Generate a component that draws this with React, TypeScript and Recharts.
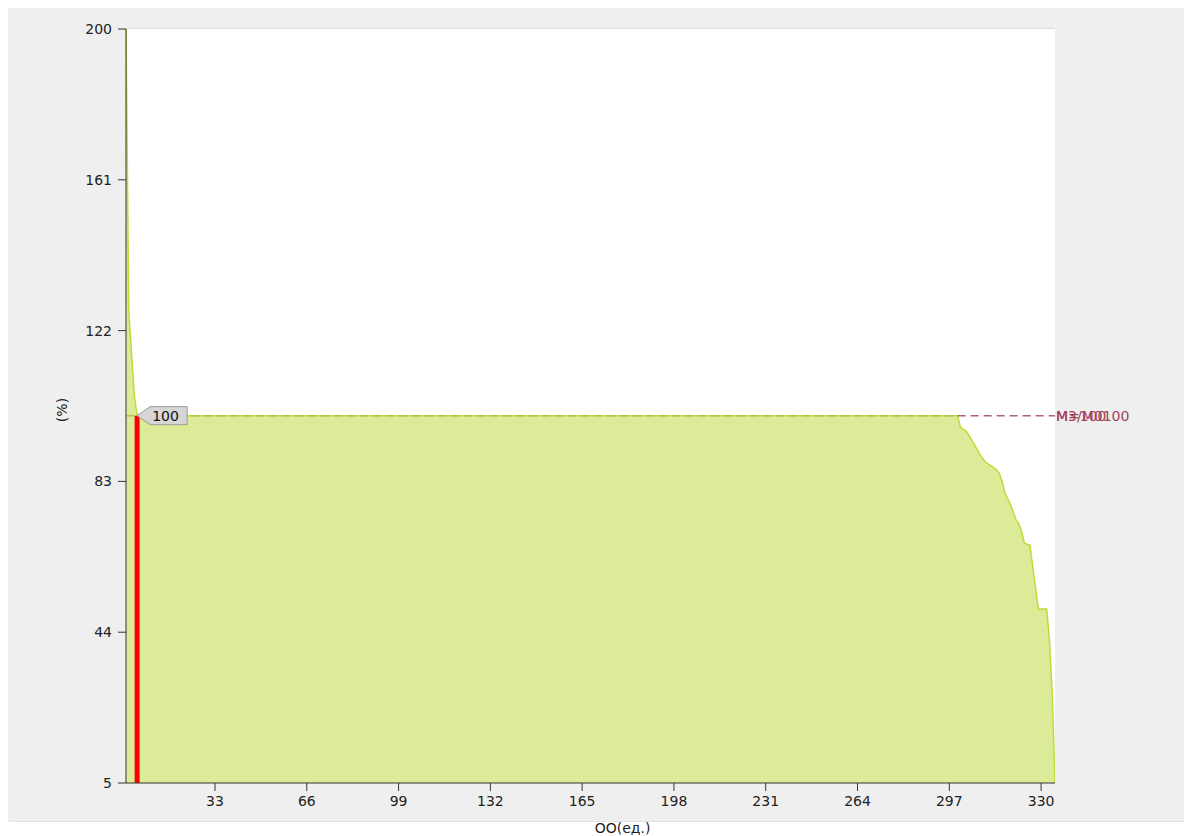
import React from 'react';
import {
  AreaChart,
  Area,
  XAxis,
  YAxis,
  CartesianGrid,
  ReferenceLine,
  ReferenceDot,
} from 'recharts';

const ooUnits = [1, 2, 3, 4, 5, 300, 301, 303, 304, 306, 308, 310, 311, 312, 314, 315, 316, 317, 318, 319, 320, 321, 322, 323, 324, 326, 329, 332, 333, 334, 335];
const pctValues = [200, 127, 116, 105, 100, 100, 97, 96, 95, 92.5, 90, 88, 87.5, 87, 86, 85, 83, 80, 78.5, 77, 75, 73, 72, 70, 67, 66.5, 50, 50, 42, 28, 5];

const xTicks = [33, 66, 99, 132, 165, 198, 231, 264, 297, 330];
const yTicks = [5, 44, 83, 122, 161, 200];

const markerOO = 5;
const markerPct = 100;
const normPct = 100;
const normFlatEnd = 300;
const normLabel = 'М3/М0100';
const normLabel2 = 'М=100';

const data = ooUnits.map((x, i) => ({ x, pct: pctValues[i] }));

const FONT = '"DejaVu Sans", Verdana, sans-serif';
const tickStyle = { fontSize: 14, fill: '#222', fontFamily: FONT };

const Callout = (props: any) => {
  const { cx, cy } = props;
  if (cx == null || cy == null) return null;
  const pts = `${cx},${cy} ${cx + 13},${cy - 9} ${cx + 50},${cy - 9} ${cx + 50},${cy + 9} ${cx + 13},${cy + 9}`;
  return (
    <g>
      <polygon points={pts} fill="#d6d6d6" stroke="#9a9a9a" strokeWidth={1} />
      <text x={cx + 15} y={cy + 5} fontSize={14} fontFamily={FONT} fill="#111">
        {markerPct}
      </text>
    </g>
  );
};

const NormLabel = (props: any) => {
  const vb = props.viewBox || {};
  const x = (vb.x || 0) + (vb.width || 0) + 1;
  const y = (vb.y || 0) + 5;
  return (
    <g fill="#a0445e" fontSize={14} fontFamily={FONT}>
      <text x={x} y={y}>{normLabel}</text>
      <text x={x} y={y}>{normLabel2}</text>
    </g>
  );
};

export default function App() {
  return (
    <div style={{ position: 'relative', width: 1192, height: 836 }}>
      <div
        style={{
          position: 'absolute',
          left: -4,
          top: -3,
          width: 1200,
          height: 815,
          background: '#efefef',
          border: '1px solid #e2e2e2',
          borderRadius: 8,
        }}
      />
      <div
        style={{
          position: 'absolute',
          left: 117,
          top: 20,
          width: 929,
          height: 754,
          borderTop: '1px solid #dcdcdc',
          borderRight: '1px solid #dcdcdc',
        }}
      />
      <div style={{ position: 'absolute', left: -4, top: -3 }}>
        <AreaChart
          width={1188}
          height={832}
          data={data}
          margin={{ top: 24, right: 137, bottom: 0, left: 0 }}
          style={{ overflow: 'visible' }}
        >
          <CartesianGrid horizontal={false} vertical={false} fill="#ffffff" />
          <XAxis
            dataKey="x"
            type="number"
            domain={[1, 335]}
            ticks={xTicks}
            allowDataOverflow
            tickSize={8}
            tickMargin={5}
            tick={tickStyle}
            stroke="#333"
            height={54}
            label={{ value: 'ОО(ед.)', position: 'insideBottom', offset: 4, dx: 32, style: { fontSize: 14, fill: '#222', fontFamily: FONT } }}
          />
          <YAxis
            type="number"
            domain={[5, 200]}
            ticks={yTicks}
            allowDataOverflow
            tickSize={8}
            tickMargin={6}
            tick={tickStyle}
            stroke="#333"
            width={122}
            label={{ value: '(%)', angle: -90, position: 'center', dx: -3, dy: 4, style: { fontSize: 14, fill: '#222', fontFamily: FONT } }}
          />
          <Area
            type="linear"
            dataKey="pct"
            stroke="#bcdc3a"
            strokeWidth={1.5}
            fill="#dceb98"
            fillOpacity={1}
            baseValue={5}
            isAnimationActive={false}
            dot={false}
            activeDot={false}
          />
          <ReferenceLine
            segment={[{ x: 1, y: normPct }, { x: normFlatEnd, y: normPct }]}
            stroke="#b4bf48"
            strokeWidth={1.5}
            strokeDasharray="8 5"
          />
          <ReferenceLine
            segment={[{ x: normFlatEnd, y: normPct }, { x: 335, y: normPct }]}
            stroke="#a0445e"
            strokeOpacity={0.85}
            strokeWidth={1.5}
            strokeDasharray="8 5"
            label={<NormLabel />}
          />
          <ReferenceLine
            segment={[{ x: markerOO, y: 5 }, { x: markerOO, y: markerPct }]}
            stroke="#ff0000"
            strokeWidth={5}
          />
          <ReferenceDot x={markerOO} y={markerPct} r={0} shape={<Callout />} />
        </AreaChart>
      </div>
    </div>
  );
}
